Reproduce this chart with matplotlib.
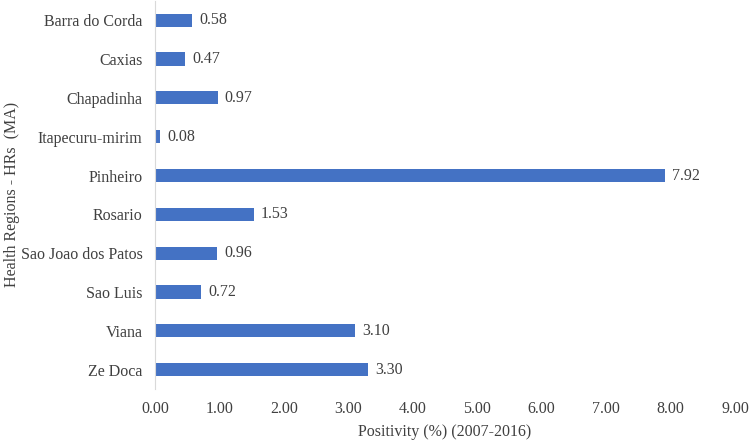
import matplotlib
matplotlib.use("Agg")
import matplotlib.pyplot as plt

regions = ["Barra do Corda", "Caxias", "Chapadinha", "Itapecuru-mirim", "Pinheiro",
           "Rosario", "Sao Joao dos Patos", "Sao Luis", "Viana", "Ze Doca"]
positivity = [0.58, 0.47, 0.97, 0.08, 7.92, 1.53, 0.96, 0.72, 3.10, 3.30]
xticks = [0, 1, 2, 3, 4, 5, 6, 7, 8, 9]

plt.rcParams['font.family'] = ['Liberation Serif', 'DejaVu Serif']
txt = '#404040'
fs = 11.5

fig = plt.figure(figsize=(7.5, 4.4), dpi=100)
ax = fig.add_axes([0.2067, 0.116, 0.7733, 0.882])

ypos = list(range(len(regions)))
ax.barh(ypos, positivity, height=0.34, color='#4472C4')
for y, v in zip(ypos, positivity):
    ax.text(v + 0.11, y, f"{v:.2f}", va='center', ha='left', fontsize=fs, color=txt)

ax.set_yticks(ypos)
ax.set_yticklabels(regions, fontsize=fs, color=txt)
ax.set_ylim(len(regions) - 0.5, -0.5)
ax.set_xlim(0, 9)
ax.set_xticks(xticks)
ax.set_xticklabels([f"{t:.2f}" for t in xticks], fontsize=fs, color=txt)
ax.tick_params(axis='y', length=0, pad=9)
ax.tick_params(axis='x', length=0, pad=9)

for s in ['top', 'right', 'bottom']:
    ax.spines[s].set_visible(False)
ax.spines['left'].set_color('#D9D9D9')

ax.set_xlabel("Positivity (%) (2007-2016)", fontsize=fs, color=txt)
ax.xaxis.set_label_coords(0.5, -0.09)
ax.set_ylabel("Health Regions - HRs  (MA)", fontsize=fs, color=txt)
ax.yaxis.set_label_coords(-0.233, 0.5)

fig.savefig("out.png", dpi=100)
